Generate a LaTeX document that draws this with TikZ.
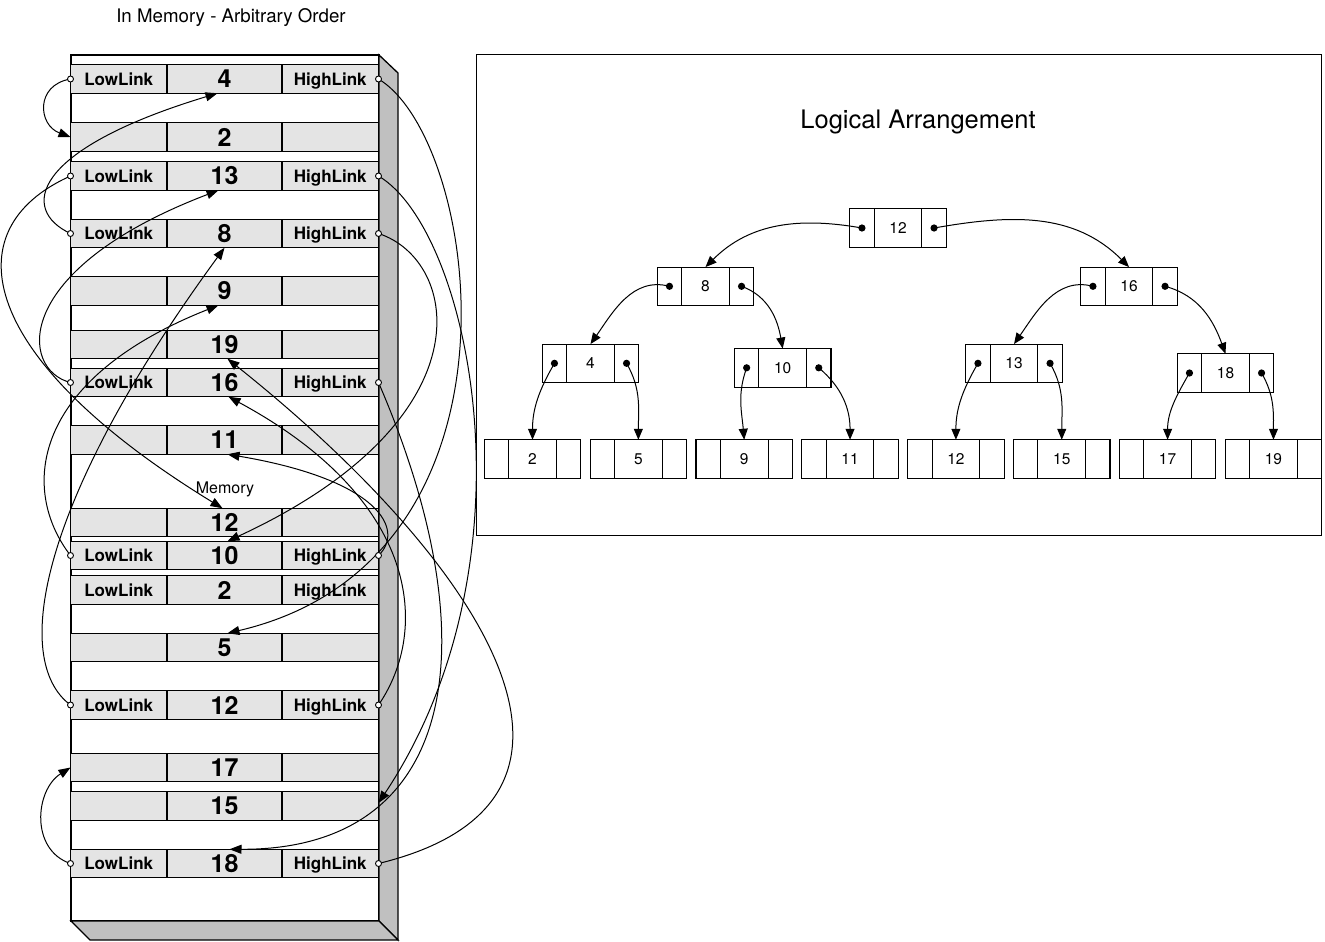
\documentclass[tikz,border=0pt]{standalone}
\usepackage{fontspec}
\setmainfont{TeX Gyre Heros}
\usetikzlibrary{arrows.meta,positioning}
\definecolor{cellgray}{HTML}{E4E4E4}
\definecolor{sidegray}{HTML}{C0C0C0}

\begin{document}
\begin{tikzpicture}[x=1pt, y=-1pt,
    memcell/.style={draw, fill=cellgray, line width=1.3pt, inner sep=0pt, outer sep=0pt, minimum height=28.5pt},
    memval/.style={memcell, minimum width=115pt, font=\fontsize{25}{25}\selectfont\bfseries},
    memside/.style={memcell, minimum width=96.5pt, text height=12.2pt, text depth=0pt, font=\fontsize{17}{17}\selectfont\bfseries},
    tval/.style={draw, line width=1.1pt, inner sep=0pt, outer sep=0pt, minimum width=47.7pt, minimum height=38.5pt, font=\fontsize{15.5}{15.5}\selectfont},
    tside/.style={tval, minimum width=24.4pt},
    marr/.style={-{Triangle[length=12pt, width=9pt]}, line width=1pt},
    tarr/.style={-{Triangle[length=11pt, width=9pt]}, line width=1pt}]
    \useasboundingbox (0,0) rectangle (1325,942);
    \node[font=\fontsize{18.7}{20}\selectfont] (title) at (231,18) {In Memory - Arbitrary Order};
    \node[draw, fill=white, line width=1.3pt, minimum width=308pt, minimum height=866pt, inner sep=0pt, outer sep=0pt] (mem) at (225,488) {};
    \draw[line width=1.3pt, fill=sidegray] (mem.north east) -- ++(19,18) -- ++(0,867) -- (mem.south east) -- cycle;
    \draw[line width=1.3pt, fill=sidegray] (mem.south west) -- ++(19,19) -- ++(308,0) -- (mem.south east) -- cycle;
    \node[font=\fontsize{16}{16}\selectfont] (memlabel) at (225,489) {Memory};
    \foreach \n/\y/\v/\k in {1/79/4/1, 2/137/2/0, 3/176/13/1, 4/233.5/8/1, 5/291/9/0, 6/344.5/19/0, 7/382.5/16/1, 8/440/11/0, 9/522.5/12/0, 10/555.5/10/1, 11/590/2/1, 12/647.5/5/0, 13/705/12/1, 14/767.5/17/0, 15/806/15/0, 16/863.5/18/1} {
      \node[memval] (r\n) at (224.5,\y) {\v};
      \node[memside, left=0pt of r\n] (rl\n) {\ifnum\k>0 LowLink\fi};
      \node[memside, right=0pt of r\n] (rr\n) {\ifnum\k>0 HighLink\fi};
    }

    \node[draw, line width=1pt, minimum width=845pt, minimum height=480pt, inner sep=0pt, outer sep=0pt] (logic) at (898.5,295) {};
    \node[font=\fontsize{25.5}{26}\selectfont] (logtitle) at (918,122) {Logical Arrangement};
    \foreach \v/\x/\y in {12/898/228, 8/705.5/286.3, 16/1129/286.3, 4/590.5/363.3, 10/782.7/367.8, 13/1014/363.3, 18/1225.5/373} {
      \node[tval] (t\v) at (\x,\y) {\v};
      \node[tside, left=0pt of t\v] (tl\v) {};
      \node[tside, right=0pt of t\v] (tr\v) {};
      \fill (tl\v.center) circle (3.6pt) (tr\v.center) circle (3.6pt);
    }
    \foreach \v [count=\i] in {2,5,9,11,12,15,17,19} {
      \node[tval] (lf\v) at ({532.5+105.85*(\i-1)},459) {\v};
      \node[tside, left=0pt of lf\v] (lfl\v) {};
      \node[tside, right=0pt of lf\v] (lfr\v) {};
    }
    \draw[tarr] (tl12.center) to[out=170, in=45] (t8.north);
    \draw[tarr] (tr12.center) to[out=10, in=135] (t16.north);
    \draw[tarr] (tl8.center) to[out=165, in=55] (t4.north);
    \draw[tarr] (tr8.center) to[out=-20, in=100] (t10.north);
    \draw[tarr] (tl16.center) to[out=165, in=55] (t13.north);
    \draw[tarr] (tr16.center) to[out=-15, in=110] (t18.north);
    \draw[tarr] (tl4.center) to[out=-120, in=90] (lf2.north);
    \draw[tarr] (tr4.center) to[out=-60, in=90] (lf5.north);
    \draw[tarr] (tl10.center) to[out=-110, in=95] (lf9.north);
    \draw[tarr] (tr10.center) to[out=-40, in=90] (lf11.north);
    \draw[tarr] (tl13.center) to[out=-120, in=90] (lf12.north);
    \draw[tarr] (tr13.center) to[out=-60, in=90] (lf15.north);
    \draw[tarr] (tl18.center) to[out=-120, in=90] (lf17.north);
    \draw[tarr] (tr18.center) to[out=-60, in=90] (lf19.north);

    \draw[marr] (rl1.west) .. controls (35,85) and (38,125) .. (rl2.west);
    \draw[marr] (rl4.west) .. controls (20,210) and (30,150) .. ([xshift=-7pt]r1.south);
    \draw[marr] (rl3.west) .. controls (-50,230) and (-20,360) .. ([xshift=-2pt]r9.north);
    \draw[marr] (rl7.west) .. controls (20,370) and (10,270) .. ([xshift=-6pt]r3.south);
    \draw[marr] (rl10.west) .. controls (20,490) and (30,380) .. ([xshift=-6pt]r5.south);
    \draw[marr] (rl13.west) .. controls (10,660) and (40,500) .. (r4.south);
    \draw[marr] (rl16.west) .. controls (30,850) and (35,790) .. (rl14.west);
    \draw[marr] (rr1.east) .. controls (480,140) and (540,560) .. ([xshift=3pt]r12.north);
    \draw[marr] (rr3.east) .. controls (470,230) and (540,560) .. ([yshift=3pt]rr15.east);
    \draw[marr] (rr4.east) .. controls (460,260) and (490,420) .. ([xshift=3pt]r10.north);
    \draw[marr] (rr7.east) .. controls (490,640) and (460,850) .. ([xshift=5pt]r16.north);
    \draw[marr] (rr10.east) .. controls (405,530) and (380,480) .. ([xshift=3pt]r8.south);
    \draw[marr] (rr13.east) .. controls (430,630) and (420,500) .. ([xshift=4pt]r7.south);
    \draw[marr] (rr16.east) .. controls (640,800) and (480,560) .. ([xshift=3pt]r6.south);
    \foreach \n in {1,3,4,7,10,13,16} {
      \draw[fill=white, line width=0.9pt] (rl\n.west) circle (3pt) (rr\n.east) circle (3pt);
    }
  \end{tikzpicture}
\end{document}
